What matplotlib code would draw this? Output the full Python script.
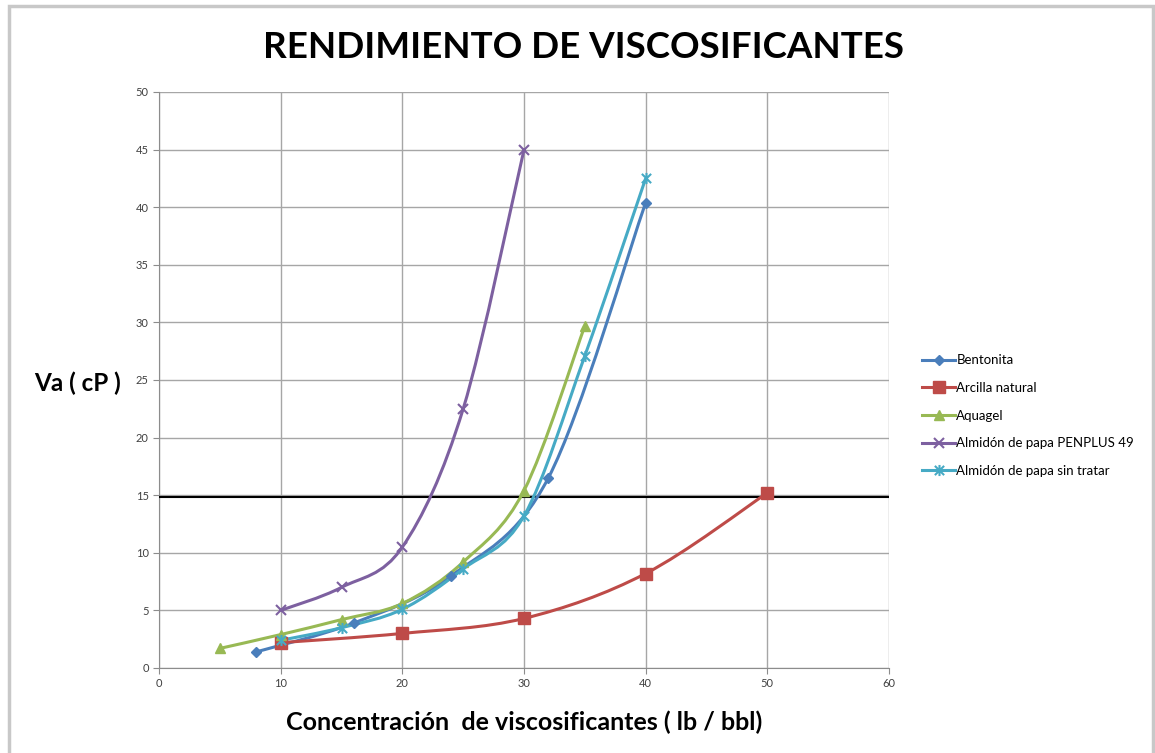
import matplotlib
matplotlib.use("Agg")
import matplotlib.pyplot as plt
from matplotlib.path import Path
from matplotlib.patches import PathPatch, Rectangle
from matplotlib.lines import Line2D
import numpy as np

plt.rcParams['font.family'] = ['Lato', 'DejaVu Sans']

title = "RENDIMIENTO DE VISCOSIFICANTES"
x_label = "Concentración  de viscosificantes ( lb / bbl)"
y_label = "Va ( cP )"

bent_x = [8, 16, 24, 32, 40]
bent_y = [1.4, 3.9, 8.0, 16.5, 40.4]

arc_x = [10, 20, 30, 40, 50]
arc_y = [2.2, 3.0, 4.3, 8.2, 15.2]

aqua_x = [5, 10, 15, 20, 25, 30, 35]
aqua_y = [1.7, 2.9, 4.2, 5.6, 9.2, 15.4, 29.7]

pen_x = [10, 15, 20, 25, 30]
pen_y = [5.0, 7.0, 10.5, 22.5, 45.0]

sin_x = [10, 15, 20, 25, 30, 35, 40]
sin_y = [2.4, 3.5, 5.1, 8.6, 13.2, 27.1, 42.5]

ref_level = 14.85

star_marker = Path([(-1, -1), (1, 1), (-1, 1), (1, -1), (0, -1.2), (0, 1.2)],
                   [Path.MOVETO, Path.LINETO, Path.MOVETO, Path.LINETO,
                    Path.MOVETO, Path.LINETO])

series = [
    ("Bentonita", bent_x, bent_y, "#4A7EBB", "D", 5),
    ("Arcilla natural", arc_x, arc_y, "#BE4B48", "s", 8),
    ("Aquagel", aqua_x, aqua_y, "#98B954", "^", 7),
    ("Almidón de papa PENPLUS 49", pen_x, pen_y, "#7D60A0", "x", 7),
    ("Almidón de papa sin tratar", sin_x, sin_y, "#46AAC5", star_marker, 8),
]


def smooth_path(xs, ys):
    pts = np.column_stack([xs, ys]).astype(float)
    n = len(pts)
    verts = [pts[0]]
    codes = [Path.MOVETO]
    for i in range(n - 1):
        p0 = pts[i - 1] if i > 0 else pts[i]
        p1 = pts[i]
        p2 = pts[i + 1]
        p3 = pts[i + 2] if i + 2 < n else pts[i + 1]
        c1 = p1 + (p2 - p0) / 6.0
        c2 = p2 - (p3 - p1) / 6.0
        verts += [c1, c2, p2]
        codes += [Path.CURVE4] * 3
    return Path(verts, codes)


fig = plt.figure(figsize=(11.55, 7.53), dpi=100)
fig.patches.append(Rectangle((0.008, -0.01), 0.99, 1.002, transform=fig.transFigure,
                             fill=False, edgecolor="#C8C8C8", linewidth=2.5))

ax = fig.add_axes([0.1377, 0.1129, 0.632, 0.765])
ax.set_xlim(0, 60)
ax.set_ylim(0, 50)
ax.set_xticks(range(0, 61, 10))
ax.set_yticks(range(0, 51, 5))
ax.grid(True, color="#A6A6A6", linewidth=1.0)
ax.set_axisbelow(True)
for s in ["top", "right"]:
    ax.spines[s].set_visible(False)
for s in ["left", "bottom"]:
    ax.spines[s].set_color("#8C8C8C")
ax.tick_params(axis="both", labelsize=8, colors="#8C8C8C", labelcolor="#404040",
               length=4, direction="out")

ax.axhline(ref_level, color="black", linewidth=1.5, zorder=3)

handles = []
for name, xs, ys, col, mk, ms in series:
    lw_m = 1.0 if mk in ("D", "s", "^") else 1.5
    patch = PathPatch(smooth_path(xs, ys), facecolor="none", edgecolor=col,
                      linewidth=2.2, zorder=4)
    ax.add_patch(patch)
    ax.plot(xs, ys, linestyle="none", marker=mk, markersize=ms, color=col,
            markeredgewidth=lw_m, zorder=5)
    handles.append(Line2D([], [], color=col, linewidth=2.2, marker=mk,
                          markersize=ms, markeredgewidth=lw_m, label=name))

fig.legend(handles=handles, loc="upper left", bbox_to_anchor=(0.788, 0.545),
           frameon=False, fontsize=9.5, labelspacing=1.18, handlelength=2.5,
           handletextpad=0.1)

fig.text(0.505, 0.937, title, ha="center", va="center", fontsize=26.5,
         fontweight="bold", color="black")
fig.text(0.067, 0.491, y_label, ha="center", va="center", fontsize=17.5,
         fontweight="bold")
fig.text(0.454, 0.041, x_label, ha="center", va="center", fontsize=18,
         fontweight="bold")

fig.savefig("out.png", dpi=100, facecolor="white")
